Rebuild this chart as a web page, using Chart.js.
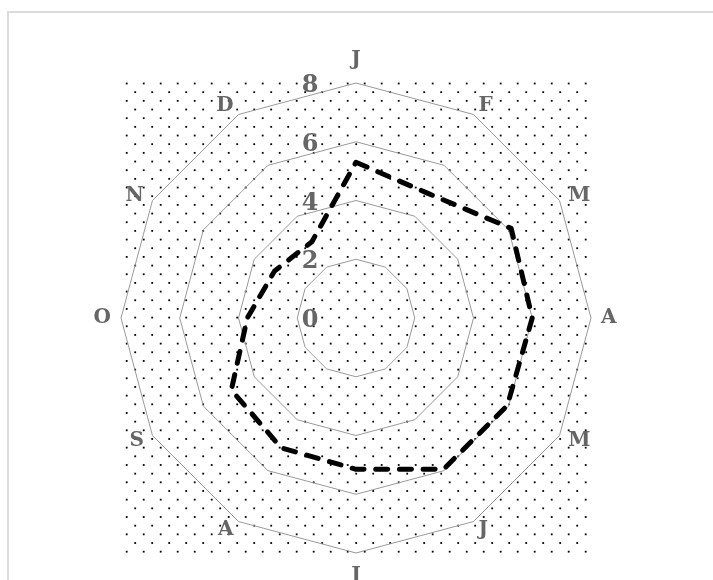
<!DOCTYPE html>
<html>
<head>
<meta charset="utf-8">
<script src="https://cdn.jsdelivr.net/npm/chart.js@4"></script>
<style>
  html, body { margin: 0; padding: 0; overflow: hidden; background: #fff; }
  #frame { position: absolute; left: 7px; top: 11px; width: 800px; height: 700px;
           border-top: 2px solid #dcdcdc; border-left: 2px solid #dcdcdc; }
  #chart { position: absolute; left: 0; top: 0; }
</style>
</head>
<body>
<div id="frame"></div>
<canvas id="chart" width="713" height="600"></canvas>
<script>
const months = ['J', 'F', 'M', 'A', 'M', 'J', 'J', 'A', 'S', 'O', 'N', 'D'];
const values = [5.3, 4.9, 6.1, 6.0, 5.95, 5.95, 5.15, 5.1, 4.9, 3.7, 3.2, 3.0];
const tickValues = [0, 2, 4, 6, 8];

const serif = '"DejaVu Serif", "Liberation Serif", serif';

// dotted square behind the web
const dotBackground = {
  id: 'dotBackground',
  beforeDraw(chart) {
    const r = chart.scales.r;
    const ctx = chart.ctx;
    const left = r.xCenter - r.drawingArea, top = r.yCenter - r.drawingArea;
    const right = r.xCenter + r.drawingArea, bottom = r.yCenter + r.drawingArea;
    ctx.save();
    ctx.fillStyle = '#000';
    let row = 0;
    for (let y = top + 0.5; y <= bottom; y += 8.67, row++) {
      const off = row % 2 ? 14.2 : 5.7;
      for (let x = left + off; x <= right; x += 17) {
        ctx.fillRect(x - 0.9, y - 0.9, 1.8, 1.8);
      }
    }
    ctx.restore();
  }
};

// month labels anchored outside each spoke, tick labels left of the centre line
const labelsPlugin = {
  id: 'labelsPlugin',
  afterDraw(chart) {
    const r = chart.scales.r;
    const ctx = chart.ctx;
    ctx.save();
    ctx.fillStyle = '#666';
    ctx.textBaseline = 'middle';
    ctx.font = 'bold 20px ' + serif;
    months.forEach((m, i) => {
      const a = r.getIndexAngle(i);
      const s = Math.sin(a), c = Math.cos(a);
      const p = r.getPointPosition(i, r.drawingArea + 10);
      let y = p.y;
      if (Math.abs(s) < 0.01) {
        ctx.textAlign = 'center';
        y += c > 0 ? -13 : 13;
      } else {
        ctx.textAlign = s > 0 ? 'left' : 'right';
      }
      ctx.fillText(m, p.x, y);
    });
    ctx.textAlign = 'center';
    ctx.font = 'bold 24px ' + serif;
    tickValues.forEach(v => {
      const d = r.getDistanceFromCenterForValue(v);
      ctx.fillText(String(v), r.xCenter - 46, r.yCenter - d + 3);
    });
    ctx.restore();
  }
};

new Chart(document.getElementById('chart'), {
  type: 'radar',
  data: {
    labels: months,
    datasets: [{
      data: values,
      borderColor: '#000',
      borderWidth: 5,
      borderDash: [12, 11.7],
      borderCapStyle: 'round',
      borderJoinStyle: 'round',
      fill: false,
      pointRadius: 0,
      tension: 0
    }]
  },
  options: {
    responsive: false,
    animation: false,
    layout: { padding: { top: 83, bottom: 47, left: 0, right: 0 } },
    plugins: { legend: { display: false }, tooltip: { enabled: false } },
    scales: {
      r: {
        min: 0,
        max: 8,
        ticks: { stepSize: 2, display: false },
        angleLines: { display: false },
        grid: { color: '#999', lineWidth: 1 },
        pointLabels: { display: false }
      }
    }
  },
  plugins: [dotBackground, labelsPlugin]
});
</script>
</body>
</html>
